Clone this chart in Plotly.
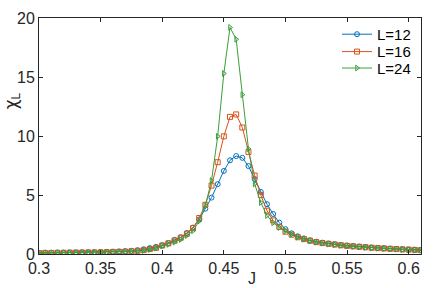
import plotly.graph_objects as go

J = [0.300, 0.305, 0.310, 0.315, 0.320, 0.325, 0.330, 0.335, 0.340, 0.345,
     0.350, 0.355, 0.360, 0.365, 0.370, 0.375, 0.380, 0.385, 0.390, 0.395,
     0.400, 0.405, 0.410, 0.415, 0.420, 0.425, 0.430, 0.435, 0.440, 0.445,
     0.450, 0.455, 0.460, 0.465, 0.470, 0.475, 0.480, 0.485, 0.490, 0.495,
     0.500, 0.505, 0.510, 0.515, 0.520, 0.525, 0.530, 0.535, 0.540, 0.545,
     0.550, 0.555, 0.560, 0.565, 0.570, 0.575, 0.580, 0.585, 0.590, 0.595,
     0.600, 0.605, 0.610]

chi_L12 = [0.10, 0.11, 0.11, 0.12, 0.12, 0.13, 0.14, 0.14, 0.15, 0.16,
           0.17, 0.18, 0.20, 0.22, 0.24, 0.27, 0.32, 0.40, 0.50, 0.60,
           0.74, 0.93, 1.20, 1.42, 1.78, 2.24, 2.93, 3.84, 4.78, 5.92,
           7.04, 7.94, 8.30, 8.15, 7.45, 6.35, 5.26, 4.22, 3.39, 2.66,
           2.10, 1.75, 1.50, 1.32, 1.16, 1.04, 0.96, 0.89, 0.83, 0.77,
           0.72, 0.67, 0.63, 0.59, 0.55, 0.52, 0.49, 0.46, 0.43, 0.41,
           0.38, 0.36, 0.34]

chi_L16 = [0.08, 0.09, 0.09, 0.10, 0.10, 0.11, 0.11, 0.12, 0.13, 0.13,
           0.14, 0.15, 0.17, 0.18, 0.20, 0.23, 0.27, 0.33, 0.42, 0.52,
           0.72, 0.90, 1.13, 1.38, 1.72, 2.19, 3.05, 4.17, 5.80, 7.78,
           9.97, 11.62, 11.83, 10.72, 8.64, 6.65, 4.99, 3.67, 2.85, 2.30,
           1.89, 1.64, 1.42, 1.26, 1.12, 1.01, 0.93, 0.86, 0.80, 0.74,
           0.69, 0.65, 0.61, 0.57, 0.53, 0.50, 0.47, 0.44, 0.42, 0.39,
           0.37, 0.35, 0.33]

chi_L24 = [0.07, 0.08, 0.08, 0.09, 0.09, 0.10, 0.10, 0.11, 0.11, 0.12,
           0.13, 0.14, 0.15, 0.16, 0.18, 0.21, 0.25, 0.30, 0.38, 0.50,
           0.68, 0.82, 1.01, 1.23, 1.56, 1.97, 2.79, 4.10, 6.22, 9.97,
           15.30, 19.20, 18.20, 13.50, 8.90, 5.94, 4.36, 3.26, 2.65, 2.25,
           1.95, 1.66, 1.43, 1.26, 1.12, 1.00, 0.92, 0.85, 0.79, 0.73,
           0.68, 0.64, 0.60, 0.56, 0.52, 0.49, 0.46, 0.43, 0.41, 0.38,
           0.36, 0.34, 0.32]

series_names = ["L=12", "L=16", "L=24"]
series_values = [chi_L12, chi_L16, chi_L24]
colors = ["#0072BD", "#D95319", "#3A9F3A"]
symbols = ["circle-open", "square-open", "triangle-right-open"]

x_ticks = [0.3, 0.35, 0.4, 0.45, 0.5, 0.55, 0.6]
x_tick_labels = ["0.3", "0.35", "0.4", "0.45", "0.5", "0.55", "0.6"]
y_ticks = [0, 5, 10, 15, 20]
y_tick_labels = ["0", "5", "10", "15", "20"]

FONT = "Liberation Sans, Arial, Helvetica, sans-serif"
AX = "#262626"

L, R, T, B = 39, 15, 10, 34
W, H = 436, 288
PW, PH = W - L - R, H - T - B

fig = go.Figure()
legend_ids = ["legend", "legend2", "legend3"]
for name, vals, c, s, lg in zip(series_names, series_values, colors, symbols, legend_ids):
    fig.add_trace(go.Scatter(
        x=J, y=vals, name=name, mode="lines+markers",
        line=dict(color=c, width=1),
        marker=dict(symbol=s, size=5, color=c, line=dict(width=1, color=c)),
        legend=lg,
    ))

axis_common = dict(
    showline=True, linecolor=AX, linewidth=1, mirror="allticks",
    ticks="inside", ticklen=4, tickcolor=AX, tickwidth=1,
    showgrid=False, zeroline=False,
    tickfont=dict(family=FONT, size=16, color=AX),
)

legend_rows_px = [27, 45, 62]
legend_x = (416 - L) / PW
legend_common = dict(
    xanchor="right", yanchor="middle",
    bgcolor="rgba(255,255,255,0)", borderwidth=0,
    font=dict(family=FONT, size=15, color="#000000"),
    itemwidth=30,
)
legends = {}
for lg, ypx in zip(legend_ids, legend_rows_px):
    legends[lg] = dict(x=legend_x, y=(H - B - ypx) / PH, **legend_common)

fig.update_layout(
    width=W, height=H,
    margin=dict(l=L, r=R, t=T, b=B),
    paper_bgcolor="white", plot_bgcolor="white",
    font=dict(family=FONT, size=16, color=AX),
    xaxis=dict(range=[0.3, 0.61], tickvals=x_ticks, ticktext=x_tick_labels, **axis_common),
    yaxis=dict(range=[0, 20], tickvals=y_ticks, ticktext=y_tick_labels, **axis_common),
    showlegend=True,
    **legends,
)

fig.add_annotation(
    text="<span style='font-family:DejaVu Sans'>χ</span><sub>L</sub>",
    xref="paper", yref="paper",
    x=(12 - L) / PW, y=(H - B - 95) / PH, xanchor="center", yanchor="middle",
    textangle=-90, showarrow=False,
    font=dict(family=FONT, size=17, color=AX),
)
fig.add_annotation(
    text="J", xref="paper", yref="paper",
    x=(252 - L) / PW, y=(H - B - 279) / PH, xanchor="center", yanchor="middle",
    showarrow=False,
    font=dict(family=FONT, size=16, color=AX),
)

fig.write_html(
    "out.html",
    config={"displayModeBar": False},
    post_script="document.body.style.margin='0';document.body.style.padding='0';",
)
